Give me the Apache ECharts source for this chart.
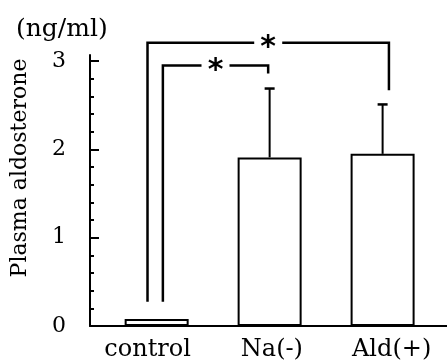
<!DOCTYPE html>
<html><head><meta charset="utf-8">
<script src="https://cdn.jsdelivr.net/npm/echarts@6/dist/echarts.min.js"></script>
<style>html,body{margin:0;padding:0;background:#fff}#c{width:447px;height:362px}</style>
</head><body><div id="c"></div>
<script>
const categories = ['control', 'Na(-)', 'Ald(+)'];
const categoryLabelAt = [-0.08, 1.02, 2.08];
const meanValues = [0.08, 1.91, 1.95];
const upperError = [null, 2.69, 2.51];
const yTickValues = [0, 1, 2, 3];
const yMinorTickValues = [0.2, 0.4, 0.6, 0.8, 1.2, 1.4, 1.6, 1.8, 2.2, 2.4, 2.6, 2.8];
const bracketLeft = [-0.081, 0.055];
const bracketRight = [2.056, 0.987];
const bracketTop = [3.21, 2.95];
const bracketLeftFoot = [0.275, 0.275];
const bracketRightFoot = [2.67, 2.86];
const bracketMark = ['*', '*'];
const unitLabel = '(ng/ml)';
const axisTitle = 'Plasma aldosterone';

const SERIF = '"DejaVu Serif", "Liberation Serif", serif';
const chart = echarts.init(document.getElementById('c'), null, {renderer: 'canvas'});

const barData = meanValues.map((v, i) => [i, v]);
const errData = [];
upperError.forEach((e, i) => { if (e != null) errData.push([i, meanValues[i], e]); });
const bracketData = bracketLeft.map((l, i) => [l, bracketRight[i], bracketTop[i], bracketLeftFoot[i], bracketRightFoot[i], i]);

chart.setOption({
  animation: false,
  backgroundColor: '#fff',
  grid: {left: 90, right: 0, top: 55, bottom: 36, containLabel: false},
  xAxis: {
    type: 'value', min: -0.59, max: 2.57,
    axisLine: {show: true, onZero: false, lineStyle: {color: '#000', width: 2}},
    axisTick: {show: false},
    splitLine: {show: false},
    axisLabel: {
      customValues: categoryLabelAt,
      formatter: v => categories[categoryLabelAt.indexOf(v)] || '',
      color: '#000', fontFamily: SERIF, fontSize: 24, margin: 12
    }
  },
  yAxis: [{
    type: 'value', min: 0, max: 3.07,
    axisLine: {show: true, onZero: false, lineStyle: {color: '#000', width: 2}},
    axisTick: {show: true, inside: true, length: 9, lineStyle: {color: '#000', width: 2}, customValues: yTickValues},
    axisLabel: {customValues: yTickValues, formatter: v => (Number.isInteger(v) ? String(v) : ''), color: '#000', fontFamily: SERIF, fontSize: 22, margin: 24},
    splitLine: {show: false}
  }, {
    type: 'value', min: 0, max: 3.07, position: 'left', offset: 0,
    axisLine: {show: false, onZero: false},
    axisTick: {show: true, inside: true, length: 4, lineStyle: {color: '#000', width: 2}, customValues: yMinorTickValues},
    axisLabel: {show: false},
    splitLine: {show: false}
  }],
  graphic: [
    {type: 'text', left: 16, top: 17, style: {text: unitLabel, fill: '#000', font: '25px ' + SERIF}},
    {type: 'text', x: 20, y: 168, rotation: Math.PI / 2, style: {text: axisTitle, fill: '#000', font: '22px ' + SERIF, align: 'center', verticalAlign: 'middle'}}
  ],
  series: [
    {
      type: 'bar', data: barData, barWidth: 64,
      itemStyle: {color: '#fff', borderColor: '#000', borderWidth: 2},
      z: 2
    },
    {
      type: 'custom', data: errData, z: 3, clip: false,
      renderItem: (params, api) => {
        const base = api.coord([api.value(0), api.value(1)]);
        const top = api.coord([api.value(0), api.value(2)]);
        return {type: 'group', children: [
          {type: 'line', shape: {x1: base[0], y1: base[1], x2: top[0], y2: top[1]}, style: {stroke: '#000', lineWidth: 2}},
          {type: 'line', shape: {x1: top[0] - 5, y1: top[1], x2: top[0] + 5, y2: top[1]}, style: {stroke: '#000', lineWidth: 2.5}}
        ]};
      }
    },
    {
      type: 'custom', data: bracketData, z: 4, clip: false,
      renderItem: (params, api) => {
        const x1 = api.value(0), x2 = api.value(1), yt = api.value(2), yl = api.value(3), yr = api.value(4);
        const pl = api.coord([x1, yl]), plt = api.coord([x1, yt]);
        const prt = api.coord([x2, yt]), pr = api.coord([x2, yr]);
        const mid = (plt[0] + prt[0]) / 2;
        const gap = 14;
        const st = {stroke: '#000', lineWidth: 2.5, fill: null};
        return {type: 'group', children: [
          {type: 'polyline', shape: {points: [pl, plt, [mid - gap, plt[1]]]}, style: st},
          {type: 'polyline', shape: {points: [[mid + gap, prt[1]], prt, pr]}, style: st},
          {type: 'text', x: mid, y: plt[1] + 6, style: {text: bracketMark[api.value(5)], fill: '#000', font: 'bold 30px "DejaVu Sans", sans-serif', align: 'center', verticalAlign: 'middle'}}
        ]};
      }
    }
  ]
});
</script></body></html>
